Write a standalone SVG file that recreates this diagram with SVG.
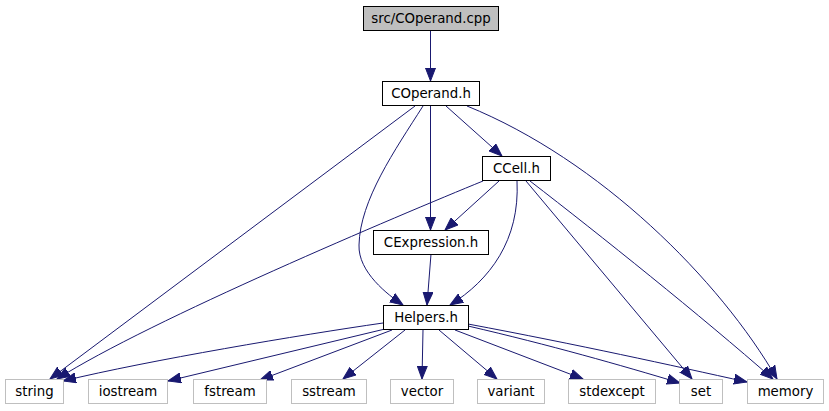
<svg xmlns="http://www.w3.org/2000/svg" width="829" height="411" viewBox="0 0 829 411">
<style>
.n rect{fill:#ffffff;stroke:#000000;stroke-width:1}
.n.src rect{fill:#bfbfbf}
.n.ext rect{stroke:#bfbfbf}
.n text{font-family:"DejaVu Sans",sans-serif;font-size:13.33px;fill:#000000;text-anchor:middle}
#edges path{fill:none;stroke:#191970;stroke-width:1;marker-end:url(#arr)}
</style>
<defs>
<marker id="arr" markerUnits="userSpaceOnUse" markerWidth="14" markerHeight="11" refX="13" refY="5" orient="auto" viewBox="0 0 14 10">
<path d="M0,0 L13,5 L0,10 z" fill="#191970" stroke="#191970" stroke-width="1"/>
</marker>
</defs>
<rect width="829" height="411" fill="#ffffff"/>
<g id="edges">
<path d="M430.5,30 L430.5,81"/>
<path d="M415,106 L50,379"/>
<path d="M423,106 C395,150 360,200 359,245 C358,272 388,295 403,305"/>
<path d="M430.5,106 L430.5,230"/>
<path d="M446,106 L502,156"/>
<path d="M467,106 C600,160 720,280 777,379"/>
<path d="M499,181 L445,230"/>
<path d="M483,181 C400,215 150,320 57,379"/>
<path d="M517,181 C520,240 490,280 450,305"/>
<path d="M526,181 L692,379"/>
<path d="M530,181 C600,235 700,315 773,379"/>
<path d="M431,254 L427,305"/>
<path d="M383,323 C300,335 150,360 63,381"/>
<path d="M385,329 L168,381"/>
<path d="M392,330 L260,380"/>
<path d="M405,330 L343,379"/>
<path d="M423,330 L422,379"/>
<path d="M439,330 L497,379"/>
<path d="M455,330 L583,379"/>
<path d="M468,326 C550,345 620,365 680,383"/>
<path d="M468,324 C580,345 670,365 747,382"/>
</g>
<g id="node_cpp" class="n src"><rect x="363.5" y="6.5" width="135" height="24"/><text x="431" y="23">src/COperand.cpp</text></g>
<g id="node_COperand" class="n"><rect x="382.5" y="81.5" width="97" height="24"/><text x="431" y="98">COperand.h</text></g>
<g id="node_CCell" class="n"><rect x="482.5" y="156.5" width="68" height="24"/><text x="516.5" y="173">CCell.h</text></g>
<g id="node_CExpression" class="n"><rect x="373.5" y="230.5" width="115" height="24"/><text x="431" y="247">CExpression.h</text></g>
<g id="node_Helpers" class="n"><rect x="383.5" y="305.5" width="85" height="24"/><text x="426" y="322">Helpers.h</text></g>
<g id="node_string" class="n ext"><rect x="5.5" y="379.5" width="58" height="24"/><text x="34.5" y="396">string</text></g>
<g id="node_iostream" class="n ext"><rect x="88.5" y="379.5" width="79" height="24"/><text x="128" y="396">iostream</text></g>
<g id="node_fstream" class="n ext"><rect x="193.5" y="379.5" width="73" height="24"/><text x="230" y="396">fstream</text></g>
<g id="node_sstream" class="n ext"><rect x="291.5" y="379.5" width="75" height="24"/><text x="329" y="396">sstream</text></g>
<g id="node_vector" class="n ext"><rect x="390.5" y="379.5" width="63" height="24"/><text x="422" y="396">vector</text></g>
<g id="node_variant" class="n ext"><rect x="477.5" y="379.5" width="67" height="24"/><text x="511" y="396">variant</text></g>
<g id="node_stdexcept" class="n ext"><rect x="568.5" y="379.5" width="87" height="24"/><text x="612" y="396">stdexcept</text></g>
<g id="node_set" class="n ext"><rect x="679.5" y="379.5" width="43" height="24"/><text x="701" y="396">set</text></g>
<g id="node_memory" class="n ext"><rect x="747.5" y="379.5" width="76" height="24"/><text x="785.5" y="396">memory</text></g>
</svg>
